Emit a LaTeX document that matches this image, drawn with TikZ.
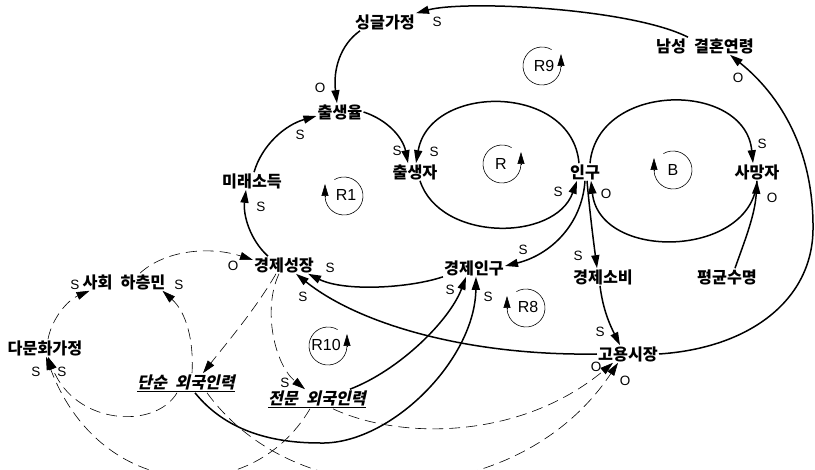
\documentclass[tikz,border=0pt]{standalone}
\usepackage{fontspec}
\setmainfont{Liberation Sans}
\newfontfamily\kr{Noto Sans CJK KR}
\newfontfamily\krsl[FakeSlant=0.22]{Noto Sans CJK KR}
\usetikzlibrary{arrows.meta}
\tikzset{
  v/.style={font=\kr\bfseries\fontsize{16.2}{17}\selectfont, inner sep=1pt},
  vi/.style={font=\krsl\bfseries\fontsize{16.2}{17}\selectfont, inner sep=1pt},
  pol/.style={font=\fontsize{13.5}{14}\selectfont, inner sep=0pt},
  lp/.style={font=\fontsize{16}{16}\selectfont, inner sep=0pt},
  sarr/.style={line width=1.5pt, -{Triangle[length=13pt,width=8pt]}},
  darr/.style={line width=0.6pt, dash pattern=on 11pt off 6pt, -{Triangle[length=13pt,width=8pt]}},
  loopc/.style={line width=0.6pt},
  looptip/.style={line width=0.6pt, -{Triangle[length=12pt,width=7pt]}},
}
\begin{document}
\begin{tikzpicture}[x=1pt,y=-1pt]
\useasboundingbox (0,0) rectangle (815,470);
\fill[white] (0,0) rectangle (815,470);
\clip (0,0) rectangle (815,470);

% variables
\node[v] (sing) at (385,22) {싱글가정};
\node[v] (nam) at (705,46) {남성\hspace{.5em}결혼연령};
\node[v] (chul) at (340,112) {출생율};
\node[v] (chs) at (415,172) {출생자};
\node[v] (ingu) at (585,172) {인구};
\node[v] (sam) at (757,172) {사망자};
\node[v] (mirae) at (252,181) {미래소득};
\node[v] (gs) at (284,265) {경제성장};
\node[v] (ep) at (474,268) {경제인구};
\node[v] (eco) at (603,277) {경제소비};
\node[v] (pg) at (727,277) {평균수명};
\node[v] (sh) at (124,282) {사회\hspace{.5em}하층민};
\node[v] (dm) at (45,348) {다문화가정};
\node[v] (gy) at (628,354) {고용시장};
\node[vi] (dn) at (186,383) {\underline{단순\hspace{.5em}외국인력}};
\node[vi] (jm) at (317,399) {\underline{전문\hspace{.5em}외국인력}};

% solid links
\draw[sarr] ([xshift=-17pt]nam.north) .. controls (630,8) and (465,0) .. (sing.north east);
\draw[sarr] ([xshift=-25pt]sing.south) .. controls (340,45) and (333,70) .. ([xshift=-3pt]chul.north);
\draw[sarr] (chul.east) .. controls (388,120) and (403,138) .. ([xshift=-7pt]chs.north);
\draw[sarr] ([xshift=2pt]mirae.north) .. controls (262,145) and (285,125) .. ([yshift=-4pt]chul.west);
\draw[sarr] ([xshift=-16pt]gs.north) .. controls (250,240) and (243,215) .. ([xshift=-6pt]mirae.south);
\draw[sarr] ([xshift=-6pt]ingu.north) .. controls (572,83) and (430,83) .. ([xshift=1pt]chs.north);
\draw[sarr] ([xshift=5pt]chs.south) .. controls (440,242) and (555,242) .. ([xshift=-8pt]ingu.south);
\draw[sarr] ([xshift=5pt]ingu.north) .. controls (598,81) and (745,81) .. ([xshift=-4pt]sam.north);
\draw[sarr] (sam.south) .. controls (752,258) and (600,262) .. ([xshift=6pt]ingu.south);
\draw[sarr] ([xshift=8pt]pg.north) .. controls (745,240) and (755,215) .. (sam.south);
\draw[sarr] (ingu.south) .. controls (582,225) and (550,255) .. ([yshift=2pt]ep.east);
\draw[sarr] ([xshift=2pt]ingu.south) .. controls (590,215) and (594,245) .. ([xshift=-6pt]eco.north);
\draw[sarr] ([xshift=-3pt]eco.south) .. controls (603,310) and (610,325) .. ([xshift=-8pt]gy.north);
\draw[sarr] (gy.east) .. controls (750,348) and (812,300) .. (813,230) .. controls (814,150) and (780,95) .. ([xshift=25pt]nam.south);
\draw[sarr] (gy.west) .. controls (470,356) and (360,325) .. ([xshift=12pt]gs.south);
\draw[sarr] ([xshift=-31pt]ep.south) .. controls (410,288) and (345,292) .. ([xshift=24pt]gs.south);
\draw[sarr] ([xshift=9pt]dn.south) .. controls (225,430) and (270,443) .. (320,443) .. controls (390,445) and (475,360) .. ([xshift=2pt]ep.south);
\draw[sarr] ([xshift=33pt]jm.north) .. controls (400,370) and (450,320) .. ([xshift=-8pt]ep.south);

% dashed links
\draw[darr] ([xshift=-8pt]gs.south) .. controls (255,310) and (225,345) .. ([xshift=17pt]dn.north);
\draw[darr] ([xshift=-5pt]gs.south) .. controls (262,310) and (275,365) .. ([xshift=-12pt]jm.north);
\draw[darr] ([xshift=16pt]sh.north) .. controls (165,250) and (210,246) .. ([yshift=5pt]gs.west);
\draw[darr] ([xshift=3pt]dm.north) .. controls (52,318) and (68,300) .. ([xshift=8pt]sh.south west);
\draw[darr] ([xshift=6pt]dn.north) .. controls (194,340) and (186,312) .. ([xshift=-4pt]sh.south east);
\draw[darr] ([xshift=-9pt]dn.south) .. controls (155,430) and (75,425) .. ([xshift=3pt]dm.south);
\draw[darr] ([xshift=-7pt]jm.south) .. controls (250,510) and (100,500) .. ([xshift=1pt]dm.south);
\draw[darr] ([xshift=21pt]dn.south) .. controls (300,520) and (520,510) .. ([xshift=-10pt]gy.south);
\draw[darr] ([xshift=16pt]jm.south) .. controls (400,440) and (520,440) .. ([xshift=-15pt]gy.south);

% polarity labels
\node[pol] (p1) at (437,22) {S};
\node[pol] (p2) at (320,88) {O};
\node[pol] (p3) at (397,151) {S};
\node[pol] (p4) at (434,152) {S};
\node[pol] (p5) at (300,135) {S};
\node[pol] (p6) at (261,207) {S};
\node[pol] (p7) at (558,192) {S};
\node[pol] (p8) at (606,194) {O};
\node[pol] (p9) at (762,144) {S};
\node[pol] (p10) at (772,198) {O};
\node[pol] (p11) at (523,250) {S};
\node[pol] (p12) at (578,256) {S};
\node[pol] (p13) at (600,332) {S};
\node[pol] (p14) at (738,78) {O};
\node[pol] (p15) at (330,268) {S};
\node[pol] (p16) at (303,297) {S};
\node[pol] (p17) at (233,266) {O};
\node[pol] (p18) at (75,285) {S};
\node[pol] (p19) at (179,285) {S};
\node[pol] (p20) at (285,383) {S};
\node[pol] (p21) at (450,290) {S};
\node[pol] (p22) at (488,297) {S};
\node[pol] (p23) at (36,372) {S};
\node[pol] (p24) at (62,372) {S};
\node[pol] (p25) at (596,367) {O};
\node[pol] (p26) at (625,381) {O};

% loop markers (counter-clockwise: R9, R, R10; clockwise: B, R1, R8)
\coordinate (c9) at (542,66);
\draw[loopc] (c9) ++(60:19pt) arc[start angle=60, end angle=360, radius=19pt];
\draw[looptip] ([xshift=19pt]c9) -- ++(0,-12);
\node[lp] (r9) at (544,66) {R9};
\coordinate (cr) at (502,164);
\draw[loopc] (cr) ++(60:19pt) arc[start angle=60, end angle=360, radius=19pt];
\draw[looptip] ([xshift=19pt]cr) -- ++(0,-12);
\node[lp] (rr) at (501,164) {R};
\coordinate (cb) at (673,170);
\draw[loopc] (cb) ++(120:19pt) arc[start angle=120, end angle=-180, radius=19pt];
\draw[looptip] ([xshift=-19pt]cb) -- ++(0,-12);
\node[lp] (bb) at (673,170) {B};
\coordinate (c1) at (344,196);
\draw[loopc] (c1) ++(120:19pt) arc[start angle=120, end angle=-180, radius=19pt];
\draw[looptip] ([xshift=-19pt]c1) -- ++(0,-12);
\node[lp] (r1) at (346,195) {R1};
\coordinate (c8) at (526,308);
\draw[loopc] (c8) ++(120:19pt) arc[start angle=120, end angle=-180, radius=19pt];
\draw[looptip] ([xshift=-19pt]c8) -- ++(0,-12);
\node[lp] (r8) at (528,307) {R8};
\coordinate (c10) at (328,346);
\draw[loopc] (c10) ++(60:19pt) arc[start angle=60, end angle=360, radius=19pt];
\draw[looptip] ([xshift=19pt]c10) -- ++(0,-12);
\node[lp] (r10) at (326,345) {R10};
\end{tikzpicture}
\end{document}
